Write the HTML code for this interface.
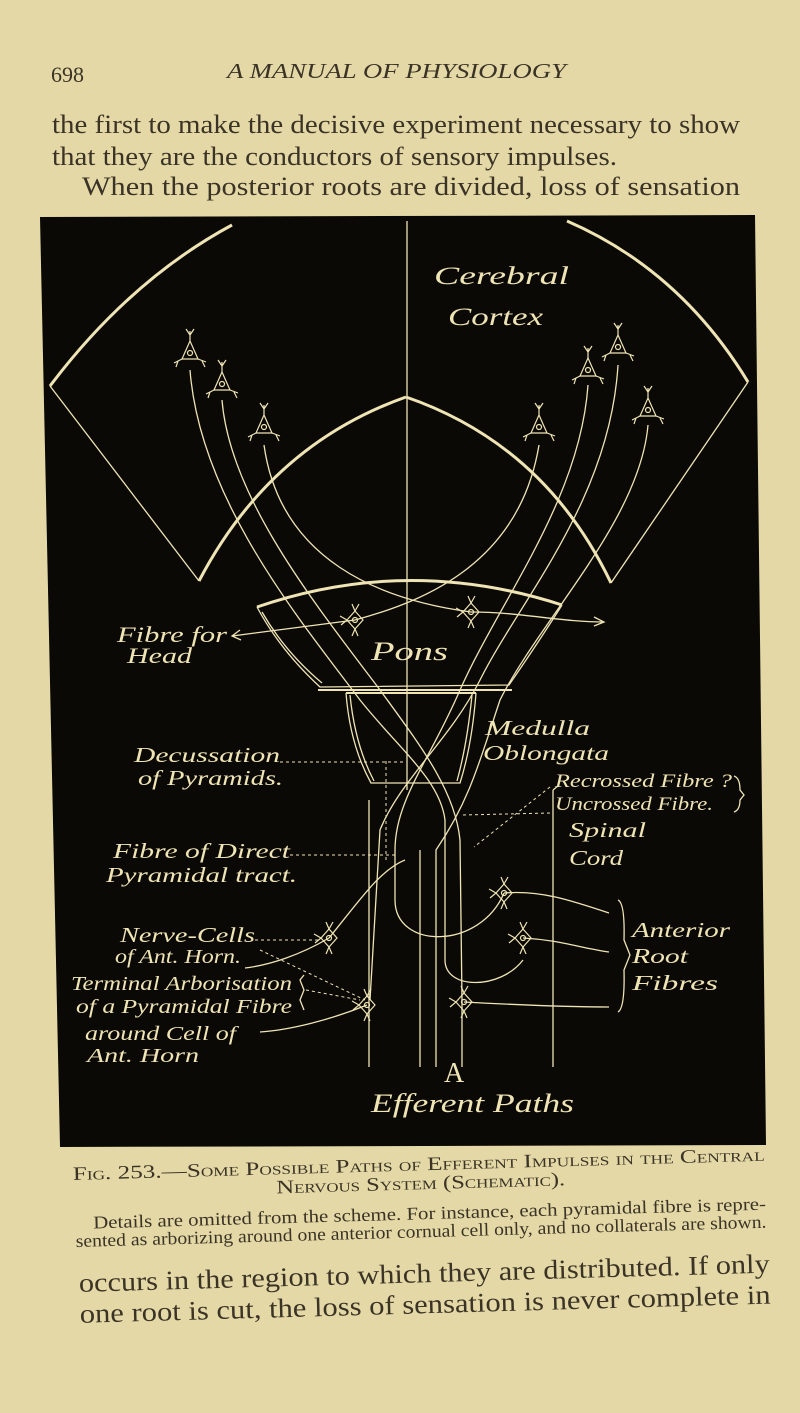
<!DOCTYPE html>
<html><head><meta charset="utf-8"><style>
html,body{margin:0;padding:0;background:#e4d9a6;}
svg{display:block}
.b{font-family:"Liberation Serif",serif;fill:#3a3326}
.l{font-family:"Liberation Serif",serif;font-style:italic;fill:#efe4b4}
</style></head><body>
<svg width="800" height="1413" viewBox="0 0 800 1413" xmlns="http://www.w3.org/2000/svg">
<defs>
<g id="nc" stroke="#efe4b4" stroke-width="1.2" fill="none">
<path d="M0,-12 L-8,6 L8,6 Z"/><circle cx="0" cy="0" r="2.5"/>
<path d="M0,-12 L0,-22 M0,-18 L-4,-24 M0,-18 L4,-24 M-8,6 L-16,10 M-12,8 L-14,14 M8,6 L16,9 M12,8 L15,14"/>
</g>
<g id="nc2" stroke="#efe4b4" stroke-width="1.2" fill="none">
<path d="M0,-9 L-8,0 L0,9 L8,0 Z"/><circle cx="0" cy="0" r="2.5"/>
<path d="M0,-9 L-3,-16 M0,-9 L4,-16 M-8,0 L-15,-4 M-8,0 L-14,5 M0,9 L-3,16 M0,9 L3,16"/>
</g>
</defs>
<rect width="800" height="1413" fill="#e4d9a6"/>
<text class="b" x="51" y="82" font-size="22">698</text>
<text class="b" x="227" y="78" font-size="21" font-style="italic" textLength="339" lengthAdjust="spacingAndGlyphs">A MANUAL OF PHYSIOLOGY</text>
<text class="b" x="52" y="133" font-size="26" textLength="688" lengthAdjust="spacingAndGlyphs">the first to make the decisive experiment necessary to show</text>
<text class="b" x="52" y="165" font-size="26" textLength="565" lengthAdjust="spacingAndGlyphs">that they are the conductors of sensory impulses.</text>
<text class="b" x="82" y="195" font-size="26" textLength="658" lengthAdjust="spacingAndGlyphs">When the posterior roots are divided, loss of sensation</text>

<polygon points="40,217 755,215 766,1145 60,1147" fill="#0b0906"/>
<g stroke="#efe4b4" fill="none" stroke-width="1.3">
<path d="M50,386 L199,581"/>
<path d="M50,386 Q130,280 232,225" stroke-width="3"/>
<path d="M199,581 Q270,445 406,397" stroke-width="3"/>
<path d="M406,397 Q545,445 611,583" stroke-width="3"/>
<path d="M567,221 Q680,270 748,382" stroke-width="3"/>
<path d="M748,382 L611,583"/>
<path d="M407,221 L407,790"/>
<path d="M257,607 Q408,555 562,605" stroke-width="3"/>
<path d="M257,607 Q280,650 320,687 L509,685 Q540,640 562,605"/>
<path d="M262,612 Q285,652 322,683" />
<path d="M318,690 L512,690" stroke-width="2"/>
<path d="M346,693 L476,693" stroke-width="2"/>
<path d="M346,693 Q350,745 371,783 L460,783 Q472,745 476,693"/>
<path d="M350,695 Q355,745 374,781"/>
<path d="M472,695 Q467,745 457,781"/>
<path d="M190,370 C200,500 300,620 360,700 C400,750 440,780 445,820 L445,960 C445,990 500,990 523,960"/>
<path d="M222,400 C230,500 320,610 380,690 C420,745 455,790 460,840 L462,1000"/>
<path d="M264,445 C280,560 380,600 471,612"/>
<path d="M618,365 C610,500 520,600 480,680 C450,740 400,780 380,830 L370,1000"/>
<path d="M588,385 C580,500 500,600 460,690 C430,760 395,800 395,850 L395,900 C395,950 480,950 504,893" />
<path d="M648,425 C640,520 540,620 500,700 C480,760 470,800 436,850 L436,1067"/>
<path d="M539,445 C520,560 430,600 355,620"/>
<path d="M369,800 L369,1067 M420,850 L420,1067 M462,1000 L462,1067"/>
<path d="M355,620 L232,636 M240,630 L232,636 L241,640"/>
<path d="M471,612 C520,612 560,622 604,622 M594,617 L604,622 L594,626"/>
<path d="M504,893 C540,890 570,900 609,913 M523,938 C560,940 580,948 609,952 M464,1002 C520,1005 570,1007 609,1007"/>
<path d="M329,938 C300,955 270,965 245,968 M367,1005 C330,1020 290,1030 260,1032"/>
<path d="M329,938 C360,900 380,870 405,860"/>
<path d="M553,790 L553,1067 M553,790 L558,786"/>
<path d="M618,900 Q625,903 624,940 L630,955 L624,970 Q625,1008 618,1012"/>
<path d="M734,776 Q740,778 740,790 L744,795 L740,800 Q740,810 734,812"/>
<path d="M304,975 L300,980 L304,990 L300,1000 L304,1010"/>
</g>
<g stroke="#efe4b4" fill="none" stroke-width="1" stroke-dasharray="3,3">
<path d="M280,762 L406,762"/>
<path d="M290,855 L395,855"/>
<path d="M463,815 L550,813"/>
<path d="M550,787 L474,847"/>
<path d="M255,940 L320,940"/>
<path d="M260,950 L365,1000"/>
<path d="M306,990 L360,1000"/>
<path d="M386,860 L386,760"/>
</g>
<use href="#nc" x="190" y="353"/><use href="#nc" x="222" y="384"/><use href="#nc" x="264" y="427"/>
<use href="#nc" x="618" y="347"/><use href="#nc" x="588" y="370"/><use href="#nc" x="648" y="410"/><use href="#nc" x="539" y="427"/>
<use href="#nc2" x="355" y="620"/><use href="#nc2" x="471" y="612"/>
<use href="#nc2" x="329" y="938"/><use href="#nc2" x="504" y="893"/><use href="#nc2" x="523" y="938"/><use href="#nc2" x="367" y="1005"/><use href="#nc2" x="464" y="1002"/>

<g class="l">
<text x="434" y="284" font-size="25" textLength="135" lengthAdjust="spacingAndGlyphs">Cerebral</text>
<text x="448" y="325" font-size="25" textLength="95" lengthAdjust="spacingAndGlyphs">Cortex</text>
<text x="117" y="642" font-size="22" textLength="110" lengthAdjust="spacingAndGlyphs">Fibre for</text>
<text x="127" y="663" font-size="22" textLength="65" lengthAdjust="spacingAndGlyphs">Head</text>
<text x="371" y="660" font-size="26" textLength="77" lengthAdjust="spacingAndGlyphs">Pons</text>
<text x="485" y="735" font-size="21" textLength="105" lengthAdjust="spacingAndGlyphs">Medulla</text>
<text x="483" y="760" font-size="21" textLength="126" lengthAdjust="spacingAndGlyphs">Oblongata</text>
<text x="134" y="762" font-size="21" textLength="146" lengthAdjust="spacingAndGlyphs">Decussation</text>
<text x="138" y="785" font-size="21" textLength="145" lengthAdjust="spacingAndGlyphs">of Pyramids.</text>
<text x="555" y="787" font-size="19" textLength="177" lengthAdjust="spacingAndGlyphs">Recrossed Fibre ?</text>
<text x="555" y="810" font-size="19" textLength="158" lengthAdjust="spacingAndGlyphs">Uncrossed Fibre.</text>
<text x="569" y="837" font-size="21" textLength="77" lengthAdjust="spacingAndGlyphs">Spinal</text>
<text x="569" y="865" font-size="21" textLength="54" lengthAdjust="spacingAndGlyphs">Cord</text>
<text x="113" y="858" font-size="21" textLength="177" lengthAdjust="spacingAndGlyphs">Fibre of Direct</text>
<text x="106" y="882" font-size="21" textLength="191" lengthAdjust="spacingAndGlyphs">Pyramidal tract.</text>
<text x="120" y="942" font-size="21" textLength="135" lengthAdjust="spacingAndGlyphs">Nerve-Cells</text>
<text x="115" y="963" font-size="20" textLength="126" lengthAdjust="spacingAndGlyphs">of Ant. Horn.</text>
<text x="71" y="990" font-size="20" textLength="221" lengthAdjust="spacingAndGlyphs">Terminal Arborisation</text>
<text x="76" y="1013" font-size="20" textLength="216" lengthAdjust="spacingAndGlyphs">of a Pyramidal Fibre</text>
<text x="85" y="1040" font-size="20" textLength="151" lengthAdjust="spacingAndGlyphs">around Cell of</text>
<text x="87" y="1062" font-size="20" textLength="112" lengthAdjust="spacingAndGlyphs">Ant. Horn</text>
<text x="632" y="937" font-size="21" textLength="98" lengthAdjust="spacingAndGlyphs">Anterior</text>
<text x="632" y="963" font-size="21" textLength="56" lengthAdjust="spacingAndGlyphs">Root</text>
<text x="632" y="990" font-size="21" textLength="86" lengthAdjust="spacingAndGlyphs">Fibres</text>
<text x="371" y="1112" font-size="26" textLength="203" lengthAdjust="spacingAndGlyphs">Efferent Paths</text>
<text x="444" y="1082" font-size="28" font-style="normal">A</text>
</g>

<g transform="rotate(-1.6 73 1180)">
<text class="b" x="73" y="1180" font-size="19" style="font-variant:small-caps" textLength="692" lengthAdjust="spacingAndGlyphs">Fig. 253.—Some Possible Paths of Efferent Impulses in the Central</text>
<text class="b" x="276" y="1199" font-size="19" style="font-variant:small-caps" textLength="289" lengthAdjust="spacingAndGlyphs">Nervous System (Schematic).</text>
<text class="b" x="92" y="1229" font-size="18" textLength="673" lengthAdjust="spacingAndGlyphs">Details are omitted from the scheme.  For instance, each pyramidal fibre is repre-</text>
<text class="b" x="74" y="1247" font-size="18" textLength="691" lengthAdjust="spacingAndGlyphs">sented as arborizing around one anterior cornual cell only, and no collaterals are shown.</text>
<text class="b" x="76" y="1292" font-size="27" textLength="691" lengthAdjust="spacingAndGlyphs">occurs in the region to which they are distributed.  If only</text>
<text class="b" x="76" y="1323" font-size="27" textLength="691" lengthAdjust="spacingAndGlyphs">one root is cut, the loss of sensation is never complete in</text>
</g>
</svg>
</body></html>
